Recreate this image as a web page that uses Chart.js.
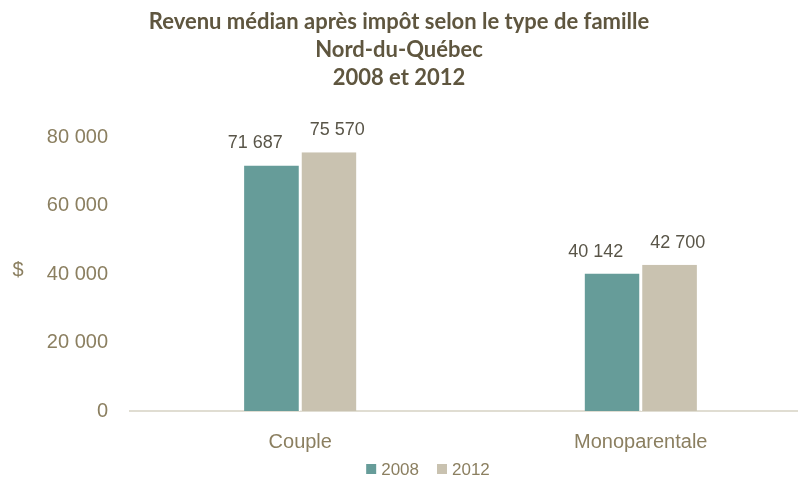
<!DOCTYPE html>
<html lang="fr">
<head>
  <meta charset="UTF-8">
  <title>Revenu médian après impôt</title>
  <script src="https://cdn.jsdelivr.net/npm/chart.js"></script>
  <style>
    body { margin: 0; background: #fff; overflow: hidden; }
    #graphique { display: block; }
  </style>
</head>
<body>
  <!-- le graphique d'origine est rogné à droite : canevas un peu plus large -->
  <canvas id="graphique" width="811" height="481"></canvas>
<script>
  // données
  var titre = ['Revenu médian après impôt selon le type de famille', 'Nord-du-Québec', '2008 et 2012'];
  var categories = ['Couple', 'Monoparentale'];
  var annees = ['2008', '2012'];
  var valeurs2008 = [71687, 40142];
  var valeurs2012 = [75570, 42700];
  var graduations = [0, 20000, 40000, 60000, 80000];

  var policeAxe = '"Liberation Sans", Arial, sans-serif';
  var largeurVisible = 798;

  function formatNombre(v) {
    return String(v).replace(/\B(?=(\d{3})+(?!\d))/g, ' ');
  }

  // étiquettes de valeur au-dessus des barres
  const etiquettes = {
    id: 'etiquettes',
    afterDatasetsDraw(chart) {
      const ctx = chart.ctx;
      ctx.save();
      ctx.font = '18px ' + policeAxe;
      ctx.fillStyle = '#595548';
      ctx.textAlign = 'center';
      ctx.textBaseline = 'alphabetic';
      chart.data.datasets.forEach(function (ds, i) {
        chart.getDatasetMeta(i).data.forEach(function (bar, j) {
          ctx.fillText(formatNombre(ds.data[j]), bar.x + (i == 0 ? -17 : 9), bar.y - 17);
        });
      });
      ctx.restore();
    }
  };

  // titre, symbole $ et légende (centrés sur la partie visible)
  const decor = {
    id: 'decor',
    afterDraw(chart) {
      const ctx = chart.ctx;
      ctx.save();

      ctx.font = 'bold 22px Lato, sans-serif';
      ctx.fillStyle = '#5f563f';
      ctx.textAlign = 'center';
      ctx.textBaseline = 'middle';
      titre.forEach(function (ligne, i) {
        ctx.fillText(ligne, largeurVisible / 2, 22 + i * 28);
      });

      ctx.font = '20px ' + policeAxe;
      ctx.fillStyle = '#8b7f60';
      ctx.fillText('$', 18, 270);

      // légende
      ctx.font = '17px ' + policeAxe;
      ctx.textAlign = 'left';
      var carre = 10, ecart = 5, entre = 18;
      var items = chart.data.datasets.map(function (ds) {
        return { texte: ds.label, couleur: ds.backgroundColor, l: ctx.measureText(ds.label).width };
      });
      var total = 0;
      items.forEach(function (it, i) { total += carre + ecart + it.l + (i > 0 ? entre : 0); });
      var x = 428 - total / 2, y = 469;
      items.forEach(function (it) {
        ctx.fillStyle = it.couleur;
        ctx.fillRect(x, y - carre / 2, carre, carre);
        ctx.fillStyle = '#8b7f60';
        ctx.fillText(it.texte, x + carre + ecart, y + 1);
        x += carre + ecart + it.l + entre;
      });

      ctx.restore();
    }
  };

  new Chart(document.getElementById('graphique'), {
    type: 'bar',
    data: {
      labels: categories,
      datasets: [{
        label: annees[0],
        data: valeurs2008,
        backgroundColor: '#669c99',
        borderColor: '#ffffff',
        borderWidth: { left: 0, right: 1.5, top: 0, bottom: 0 },
        categoryPercentage: 0.33,
        barPercentage: 1
      }, {
        label: annees[1],
        data: valeurs2012,
        backgroundColor: '#c9c2b0',
        borderColor: '#ffffff',
        borderWidth: { left: 1.5, right: 0, top: 0, bottom: 0 },
        categoryPercentage: 0.33,
        barPercentage: 1
      }]
    },
    options: {
      responsive: false,
      animation: false,
      layout: { padding: { left: 0, right: 0, top: 137, bottom: 0 } },
      plugins: {
        title: { display: false },
        legend: { display: false },
        tooltip: { enabled: false }
      },
      scales: {
        x: {
          grid: { display: false },
          border: { color: '#e0ddd2', width: 2 },
          ticks: {
            color: '#8b7f60',
            font: { family: policeAxe, size: 20 },
            padding: 11
          },
          afterFit: function (scale) { scale.height = 70; }
        },
        y: {
          min: 0,
          max: 80000,
          afterBuildTicks: function (scale) {
            scale.ticks = graduations.map(function (v) { return { value: v }; });
          },
          afterFit: function (scale) { scale.width = 130; },
          grid: { display: false },
          border: { display: false },
          ticks: {
            color: '#8b7f60',
            font: { family: policeAxe, size: 20 },
            padding: 14,
            callback: function (v) { return formatNombre(v); }
          }
        }
      }
    },
    plugins: [etiquettes, decor]
  });
</script>
</body>
</html>
